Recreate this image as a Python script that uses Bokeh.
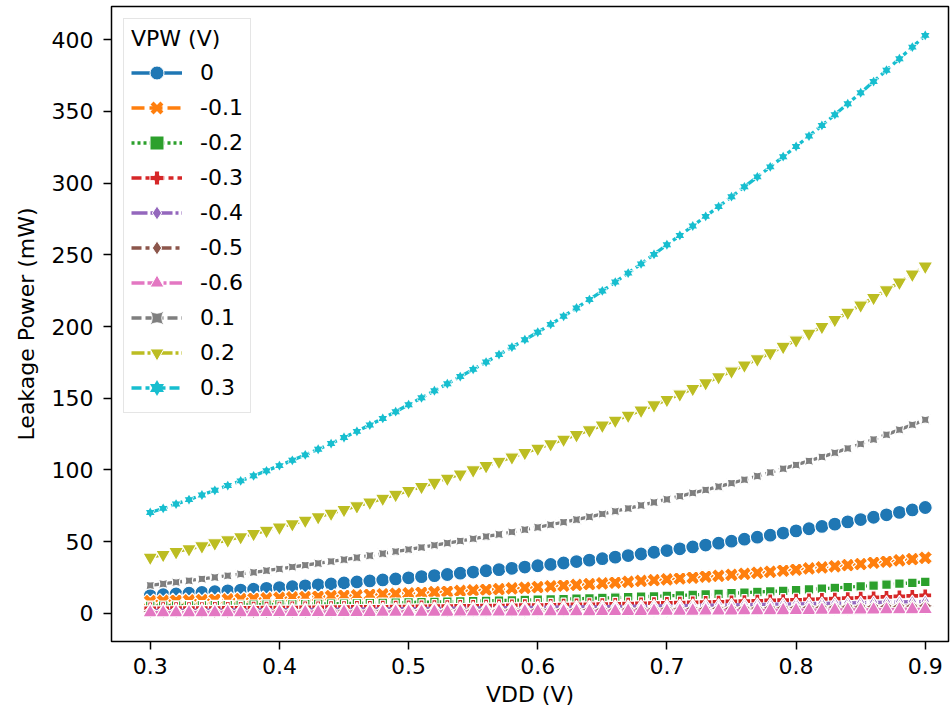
import math
from bokeh.plotting import figure
from bokeh.models import Legend, LegendItem, FixedTicker, Range1d, ColumnDataSource
from bokeh.embed import file_html
from bokeh.resources import INLINE

# ---------------- data ----------------
vdd = [0.30, 0.31, 0.32, 0.33, 0.34, 0.35, 0.36, 0.37, 0.38, 0.39,
       0.40, 0.41, 0.42, 0.43, 0.44, 0.45, 0.46, 0.47, 0.48, 0.49,
       0.50, 0.51, 0.52, 0.53, 0.54, 0.55, 0.56, 0.57, 0.58, 0.59,
       0.60, 0.61, 0.62, 0.63, 0.64, 0.65, 0.66, 0.67, 0.68, 0.69,
       0.70, 0.71, 0.72, 0.73, 0.74, 0.75, 0.76, 0.77, 0.78, 0.79,
       0.80, 0.81, 0.82, 0.83, 0.84, 0.85, 0.86, 0.87, 0.88, 0.89,
       0.90]

vpw_labels = ["0", "-0.1", "-0.2", "-0.3", "-0.4", "-0.5", "-0.6", "0.1", "0.2", "0.3"]

leak_0 = [12.5, 13.0, 13.5, 14.0, 14.6, 15.1, 15.7, 16.2, 16.8, 17.4, 18.0, 18.6, 19.2, 19.9, 20.5, 21.2,
          21.9, 22.6, 23.3, 24.0, 24.8, 25.6, 26.3, 27.1, 28.0, 28.8, 29.7, 30.5, 31.4, 32.3, 33.2, 34.1,
          35.1, 36.1, 37.1, 38.1, 39.2, 40.3, 41.4, 42.6, 43.8, 45.0, 46.3, 47.6, 48.9, 50.3, 51.7, 53.1,
          54.5, 56.0, 57.5, 59.0, 60.6, 62.2, 63.8, 65.4, 67.0, 68.7, 70.4, 72.1, 73.8]
leak_m01 = [8.5, 8.7, 8.9, 9.1, 9.3, 9.6, 9.8, 10.0, 10.3, 10.5, 10.8, 11.1, 11.4, 11.7, 12.0, 12.3,
            12.6, 13.0, 13.3, 13.6, 14.0, 14.4, 14.8, 15.2, 15.6, 16.0, 16.5, 16.9, 17.4, 17.8, 18.3, 18.8,
            19.3, 19.8, 20.4, 20.9, 21.4, 22.0, 22.6, 23.1, 23.7, 24.3, 24.9, 25.6, 26.2, 26.9, 27.6, 28.3,
            29.0, 29.8, 30.5, 31.3, 32.0, 32.8, 33.6, 34.4, 35.3, 36.1, 37.0, 37.8, 38.7]
leak_m02 = [5.2, 5.3, 5.4, 5.5, 5.6, 5.7, 5.8, 5.9, 6.0, 6.1, 6.2, 6.3, 6.4, 6.6, 6.7, 6.8,
            7.0, 7.1, 7.3, 7.4, 7.6, 7.8, 7.9, 8.1, 8.3, 8.5, 8.7, 8.9, 9.1, 9.3, 9.5, 9.7,
            9.9, 10.2, 10.5, 10.7, 11.0, 11.3, 11.6, 11.9, 12.2, 12.5, 12.9, 13.2, 13.6, 14.0, 14.4, 14.9,
            15.3, 15.7, 16.2, 16.7, 17.2, 17.7, 18.3, 18.8, 19.4, 20.1, 20.7, 21.3, 22.0]
leak_m03 = [3.5, 3.55, 3.6, 3.65, 3.7, 3.75, 3.8, 3.85, 3.9, 3.95, 4.0, 4.07, 4.14, 4.22, 4.3, 4.38,
            4.46, 4.54, 4.62, 4.71, 4.8, 4.89, 4.98, 5.07, 5.17, 5.27, 5.37, 5.47, 5.58, 5.69, 5.8, 5.93,
            6.06, 6.2, 6.34, 6.49, 6.64, 6.8, 6.96, 7.13, 7.3, 7.49, 7.69, 7.9, 8.11, 8.33, 8.55, 8.78,
            9.01, 9.25, 9.5, 9.76, 10.03, 10.31, 10.6, 10.9, 11.2, 11.51, 11.83, 12.16, 12.5]
leak_m04 = [2.0, 2.06, 2.12, 2.18, 2.24, 2.3, 2.36, 2.42, 2.48, 2.54, 2.6, 2.67, 2.74, 2.81, 2.88, 2.95,
            3.02, 3.09, 3.16, 3.23, 3.3, 3.39, 3.48, 3.57, 3.66, 3.75, 3.84, 3.93, 4.02, 4.11, 4.2, 4.31,
            4.42, 4.53, 4.64, 4.75, 4.86, 4.97, 5.08, 5.19, 5.3, 5.43, 5.56, 5.69, 5.82, 5.95, 6.08, 6.21,
            6.34, 6.47, 6.6, 6.77, 6.94, 7.11, 7.28, 7.45, 7.62, 7.79, 7.96, 8.13, 8.3]
leak_m05 = [1.2, 1.23, 1.26, 1.29, 1.32, 1.35, 1.38, 1.41, 1.44, 1.47, 1.5, 1.54, 1.58, 1.62, 1.66, 1.7,
            1.74, 1.78, 1.82, 1.86, 1.9, 1.95, 2.0, 2.05, 2.1, 2.15, 2.2, 2.25, 2.3, 2.35, 2.4, 2.47,
            2.54, 2.61, 2.68, 2.75, 2.82, 2.89, 2.96, 3.03, 3.1, 3.19, 3.28, 3.37, 3.46, 3.55, 3.64, 3.73,
            3.82, 3.91, 4.0, 4.12, 4.24, 4.36, 4.48, 4.6, 4.72, 4.84, 4.96, 5.08, 5.2]
leak_m06 = [0.5, 0.52, 0.54, 0.56, 0.58, 0.6, 0.62, 0.64, 0.66, 0.68, 0.7, 0.72, 0.74, 0.76, 0.78, 0.8,
            0.82, 0.84, 0.86, 0.88, 0.9, 0.93, 0.96, 0.99, 1.02, 1.05, 1.08, 1.11, 1.14, 1.17, 1.2, 1.24,
            1.28, 1.32, 1.36, 1.4, 1.44, 1.48, 1.52, 1.56, 1.6, 1.65, 1.7, 1.75, 1.8, 1.85, 1.9, 1.95,
            2.0, 2.05, 2.1, 2.17, 2.24, 2.31, 2.38, 2.45, 2.52, 2.59, 2.66, 2.73, 2.8]
leak_p01 = [19.5, 20.6, 21.7, 22.8, 24.0, 25.1, 26.3, 27.4, 28.6, 29.8, 31.0, 32.3, 33.6, 34.9, 36.2, 37.5,
            38.9, 40.3, 41.7, 43.1, 44.5, 46.0, 47.5, 49.0, 50.5, 52.0, 53.6, 55.1, 56.7, 58.4, 60.0, 61.8,
            63.6, 65.4, 67.3, 69.3, 71.2, 73.2, 75.3, 77.4, 79.5, 81.7, 83.9, 86.1, 88.4, 90.8, 93.2, 95.7,
            98.3, 100.9, 103.5, 106.3, 109.1, 112.0, 115.0, 118.1, 121.3, 124.6, 128.0, 131.5, 135.0]
leak_p02 = [39.0, 40.9, 42.9, 44.9, 46.9, 49.0, 51.1, 53.3, 55.5, 57.7, 60.0, 62.4, 64.8, 67.2, 69.7, 72.3,
            74.8, 77.4, 80.1, 82.8, 85.5, 88.3, 91.2, 94.1, 97.0, 99.9, 102.9, 105.9, 108.9, 112.0, 115.0, 118.1,
            121.3, 124.5, 127.8, 131.1, 134.5, 138.0, 141.6, 145.2, 149.0, 152.8, 156.7, 160.7, 164.8, 168.9, 173.0, 177.3,
            181.6, 186.0, 190.5, 195.2, 199.9, 204.8, 209.8, 214.9, 220.1, 225.4, 230.8, 236.4, 242.0]
leak_p03 = [70.3, 73.2, 76.2, 79.3, 82.5, 85.8, 89.1, 92.4, 95.9, 99.4, 103.0, 106.7, 110.5, 114.4, 118.4, 122.6,
            126.9, 131.3, 135.9, 140.6, 145.5, 150.3, 155.2, 160.1, 165.1, 170.1, 175.2, 180.4, 185.6, 190.8, 196.0, 201.5,
            207.1, 212.9, 218.8, 224.8, 231.0, 237.2, 243.7, 250.3, 257.0, 263.5, 270.1, 276.8, 283.6, 290.5, 297.4, 304.3,
            311.3, 318.4, 325.5, 332.8, 340.2, 347.7, 355.3, 363.0, 370.8, 378.7, 386.7, 394.8, 403.0]

x_ticks = [0.3, 0.4, 0.5, 0.6, 0.7, 0.8, 0.9]
y_ticks = [0, 50, 100, 150, 200, 250, 300, 350, 400]

# ---------------- styling ----------------
series = [leak_0, leak_m01, leak_m02, leak_m03, leak_m04, leak_m05, leak_m06, leak_p01, leak_p02, leak_p03]
colors = ["#1f77b4", "#ff7f0e", "#2ca02c", "#d62728", "#9467bd",
          "#8c564b", "#e377c2", "#7f7f7f", "#bcbd22", "#17becf"]
dashes = ["solid", "13 5", "3 3", "10 4 5 4", "16 3 3 3",
          "10 4 4 4 4 4", "13 3 13 3 3 3", "10 4 10 4 4 4", "13 3 3 3 3 3", "10 4 4 4 4 4 4 4"]
# plot markers: (marker, size, angle)
markers = [
    [("circle", 14, 0.0)],
    [("plus", 15, math.pi / 4)],
    [("square", 9.5, 0.0)],
    [("plus", 13, 0.0)],
    [("diamond", 13, 0.0)],
    [("square_pin", 12, math.pi / 4)],
    [("triangle", 15, 0.0)],
    [("square_pin", 10, 0.0)],
    [("inverted_triangle", 15, 0.0)],
    [("triangle", 8.5, 0.0), ("inverted_triangle", 8.5, 0.0)],
]
# legend glyphs
legend_markers = [
    ["circle"], ["x"], ["square"], ["plus"], ["diamond"],
    ["diamond"], ["triangle"], ["square_pin"], ["inverted_triangle"],
    ["triangle", "inverted_triangle"],
]

FONT = "DejaVu Sans"
FS = "22px"

all_vals = [v for s in series for v in s]
lo, hi = min(all_vals), max(all_vals)
ypad = 0.05 * (hi - lo)
xpad = 0.05 * (vdd[-1] - vdd[0])

p = figure(width=950, height=714, output_backend="svg", toolbar_location=None,
           x_range=Range1d(vdd[0] - xpad, 0.918), y_range=Range1d(lo - ypad, hi + ypad),
           min_border_left=111, min_border_right=2, min_border_top=6, min_border_bottom=73)

p.background_fill_color = "white"
p.border_fill_color = "white"
p.outline_line_color = "black"
p.outline_line_width = 1.5
p.grid.visible = False

for ax in (p.xaxis[0], p.yaxis[0]):
    ax.axis_line_color = None
    ax.major_tick_out = 8
    ax.major_tick_in = 0
    ax.minor_tick_out = 0
    ax.minor_tick_in = 0
    ax.major_tick_line_width = 1.5
    ax.major_tick_line_color = "black"
    ax.major_label_text_font = FONT
    ax.major_label_text_font_size = FS
    ax.major_label_text_color = "black"
    ax.axis_label_text_font = FONT
    ax.axis_label_text_font_size = FS
    ax.axis_label_text_font_style = "normal"
    ax.axis_label_text_color = "black"

p.xaxis.ticker = FixedTicker(ticks=x_ticks)
p.yaxis.ticker = FixedTicker(ticks=y_ticks)
p.xaxis.axis_label = "VDD (V)"
p.yaxis.axis_label = "Leakage Power (mW)"
p.xaxis.major_label_standoff = 8
p.yaxis.major_label_standoff = 10
p.xaxis.axis_label_standoff = 5
p.yaxis.axis_label_standoff = 10

items = []
for label, ys, color, dash, mk, lmk in zip(vpw_labels, series, colors, dashes, markers, legend_markers):
    src = ColumnDataSource(dict(x=vdd, y=ys))
    ln = p.line("x", "y", source=src, line_color=color, line_width=3.3, line_dash=dash)
    for (m, s, a) in mk:
        p.scatter("x", "y", source=src, marker=m, size=s, angle=a,
                  fill_color=color, line_color="white", line_width=1.2)
    if len(mk) > 1:
        # fill-only overlay so the combined star shows no inner white edges
        for (m, s, a) in mk:
            p.scatter("x", "y", source=src, marker=m, size=s, angle=a,
                      fill_color=color, line_color=None)
    legend_rs = [ln]
    for m in lmk:
        if m == "x":
            r = p.scatter("x", "y", source=src, marker=m, size=12,
                          line_color=color, line_width=4.2)
        elif len(lmk) > 1:
            r = p.scatter("x", "y", source=src, marker=m, size=12,
                          fill_color=color, line_color=None)
        else:
            r = p.scatter("x", "y", source=src, marker=m, size=12,
                          fill_color=color, line_color="white", line_width=1)
        r.visible = False
        legend_rs.append(r)
    items.append(LegendItem(label=label, renderers=legend_rs))

legend = Legend(items=items, location="top_left", title="VPW (V)")
legend.margin = 12
legend.padding = 7
legend.spacing = 0
legend.glyph_width = 51
legend.glyph_height = 35
legend.label_height = 35
legend.label_standoff = 18
legend.title_standoff = 4
legend.label_text_font = FONT
legend.label_text_font_size = FS
legend.label_text_color = "black"
legend.title_text_font = FONT
legend.title_text_font_size = FS
legend.title_text_font_style = "normal"
legend.title_text_color = "black"
legend.border_line_color = "#cccccc"
legend.border_line_width = 1.5
legend.background_fill_color = "white"
legend.background_fill_alpha = 0.8
p.add_layout(legend)

open("out.html", "w").write(file_html(p, INLINE))
